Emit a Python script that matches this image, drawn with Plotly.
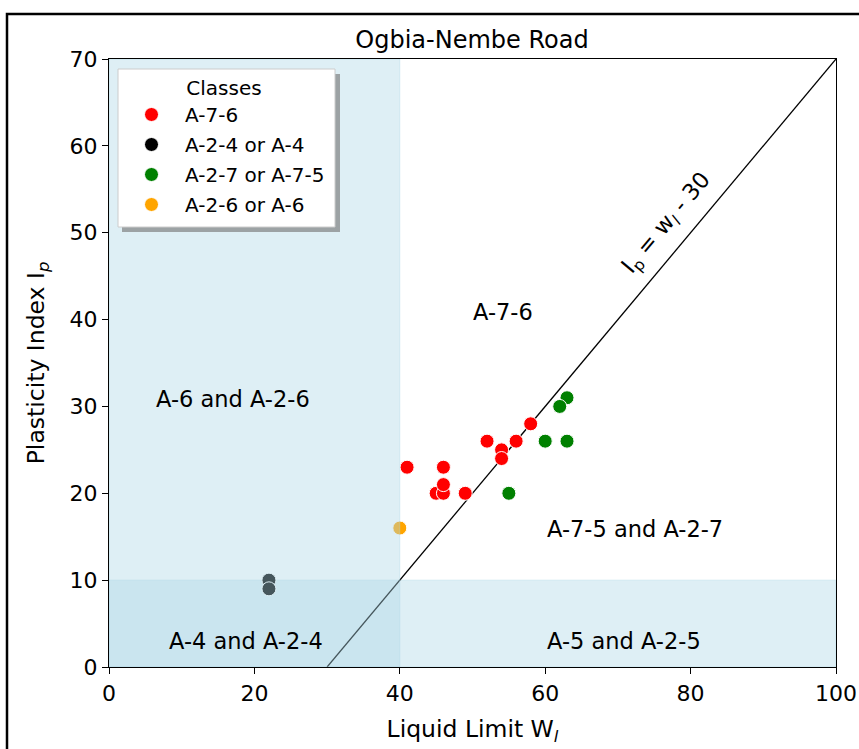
import plotly.graph_objects as go

# AASHTO classification of subgrade samples
classes = ["A-7-6", "A-2-4 or A-4", "A-2-7 or A-7-5", "A-2-6 or A-6"]
class_colors = ["red", "black", "green", "orange"]

liquid_limit = {
    "A-7-6": [41, 45, 46, 46, 46, 49, 52, 54, 54, 56, 58],
    "A-2-4 or A-4": [22, 22],
    "A-2-7 or A-7-5": [63, 62, 60, 63, 55],
    "A-2-6 or A-6": [40],
}
plasticity_index = {
    "A-7-6": [23, 20, 20, 21, 23, 20, 26, 25, 24, 26, 28],
    "A-2-4 or A-4": [10, 9],
    "A-2-7 or A-7-5": [31, 30, 26, 26, 20],
    "A-2-6 or A-6": [16],
}

# zone labels (centre positions in data units)
zone_text = ["A-7-6", "A-6 and A-2-6", "A-7-5 and A-2-7", "A-4 and A-2-4", "A-5 and A-2-5"]
zone_x = [54.2, 17.1, 72.3, 18.8, 70.8]
zone_y = [40.9, 30.9, 15.9, 3.0, 3.0]

# boundary line Ip = wl - 30
line_wl = [30, 100]
line_ip = [wl - 30 for wl in line_wl]

FONT = "DejaVu Sans"
SPAN = "rgba(173,216,230,0.4)"

# plot-area pixel geometry used to place paper-referenced decorations
L, R, T, B = 109, 836, 59, 667


def px(xp):
    return (xp - L) / (R - L)


def py(yp):
    return (B - yp) / (B - T)


fig = go.Figure()

fig.add_trace(go.Scatter(
    x=line_wl, y=line_ip, mode="lines",
    line=dict(color="black", width=1.3), showlegend=False, hoverinfo="skip"))

for i, (cls, col) in enumerate(zip(classes, class_colors)):
    fig.add_trace(go.Scatter(
        x=liquid_limit[cls], y=plasticity_index[cls], mode="markers", name=cls,
        legendgroup=f"g{i}",
        marker=dict(color=col, size=14, line=dict(color="white", width=1))))

# shaded zones: low plasticity band below the points, low liquid limit band above
fig.add_shape(type="rect", xref="x", yref="y", x0=0, x1=100, y0=0, y1=10,
              fillcolor=SPAN, line=dict(color=SPAN, width=1), layer="below")
fig.add_shape(type="rect", xref="x", yref="y", x0=0, x1=40, y0=0, y1=70,
              fillcolor=SPAN, line=dict(color=SPAN, width=1), layer="above")

# legend frame with drop shadow
fig.add_shape(type="rect", xref="paper", yref="paper",
              x0=px(122), x1=px(340), y0=py(232), y1=py(74),
              fillcolor="rgba(120,120,120,0.65)", line=dict(width=0), layer="above")
fig.add_shape(type="rect", xref="paper", yref="paper",
              x0=px(118), x1=px(335), y0=py(227), y1=py(69),
              fillcolor="white", line=dict(color="#cccccc", width=1), layer="above")

# figure frame
fig.add_shape(type="rect", xref="paper", yref="paper",
              x0=px(7), x1=1.6, y0=-0.4, y1=py(14),
              fillcolor="rgba(0,0,0,0)", line=dict(color="black", width=2.5),
              layer="above")

for t, x, y in zip(zone_text, zone_x, zone_y):
    fig.add_annotation(x=x, y=y, text=t, showarrow=False,
                       font=dict(family=FONT, size=22.5, color="black"))

fig.add_annotation(x=76.8, y=51.1, text="I<sub>p</sub> = w<sub><i>l</i></sub> - 30",
                   showarrow=False, textangle=-50,
                   font=dict(family=FONT, size=22.5, color="black"))

fig.update_layout(
    width=859, height=749,
    margin=dict(l=L, r=859 - R, t=T, b=749 - B, autoexpand=False),
    paper_bgcolor="white", plot_bgcolor="white",
    font=dict(family=FONT, size=20, color="black"),
    title=dict(text="Ogbia-Nembe Road", x=472 / 859, xanchor="center",
               y=1 - 40 / 749, yanchor="middle",
               font=dict(family=FONT, size=24, color="black")),
    legend=dict(
        x=px(118), y=py(69), xanchor="left", yanchor="top",
        bgcolor="rgba(0,0,0,0)", borderwidth=0,
        title=dict(text="Classes", side="top center",
                   font=dict(family=FONT, size=20, color="black")),
        font=dict(family=FONT, size=20, color="black"),
        tracegroupgap=1, itemwidth=57),
    showlegend=True,
)

fig.update_xaxes(
    range=[0, 100], tickvals=[0, 20, 40, 60, 80, 100], automargin=False,
    showgrid=False, zeroline=False, showline=True, linecolor="black", linewidth=1.2,
    mirror=True, ticks="outside", ticklen=6, tickwidth=1.2, tickcolor="black",
    tickfont=dict(family=FONT, size=22, color="black"),
    title=dict(text="Liquid Limit W<sub><i>l</i></sub>", standoff=16,
               font=dict(family=FONT, size=23.5, color="black")))
fig.update_yaxes(
    range=[0, 70], tickvals=[0, 10, 20, 30, 40, 50, 60, 70], automargin=False,
    showgrid=False, zeroline=False, showline=True, linecolor="black", linewidth=1.2,
    mirror=True, ticks="outside", ticklen=6, tickwidth=1.2, tickcolor="black",
    tickfont=dict(family=FONT, size=22, color="black"),
    title=dict(text="Plasticity Index I<sub><i>p</i></sub>", standoff=18,
               font=dict(family=FONT, size=23.5, color="black")))

fig.write_html("out.html")
